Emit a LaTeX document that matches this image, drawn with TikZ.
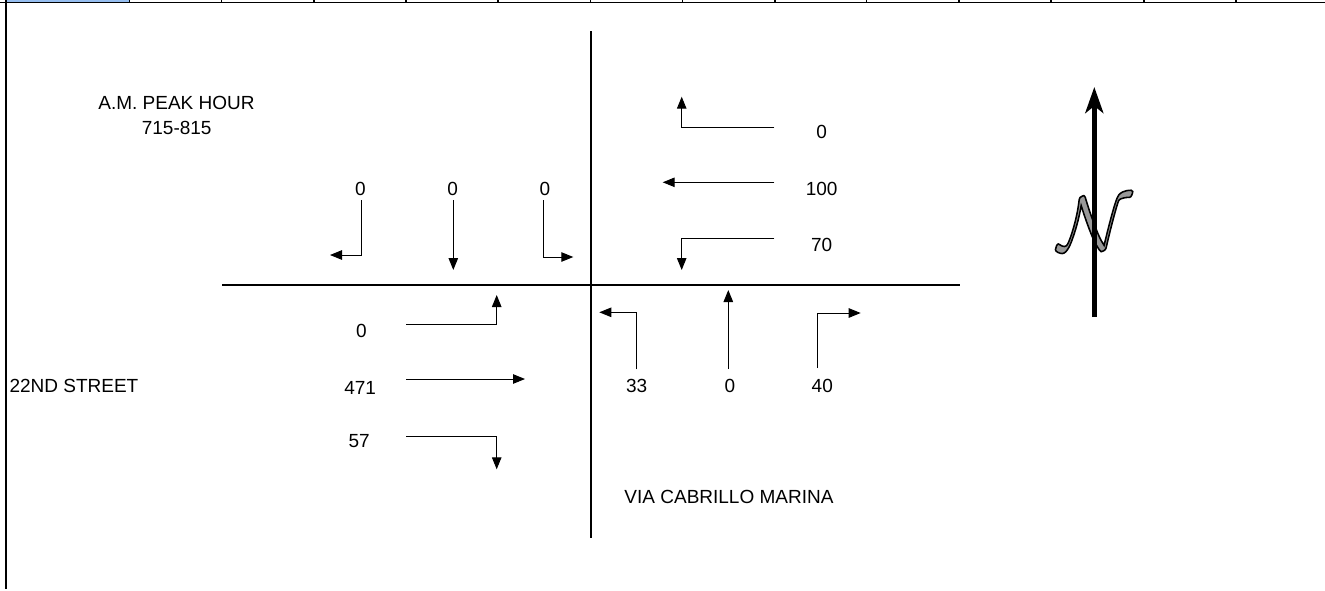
\documentclass[tikz,border=0pt]{standalone}
\usepackage{fontspec}
\setmainfont{Liberation Sans}
\usetikzlibrary{arrows.meta}
\definecolor{cellblue}{HTML}{96BEF0}
\definecolor{ngray}{gray}{0.6}
\newcommand{\outlinedN}{\special{pdf:code 2 Tr 0.42 w 0 G}$\mathcal{N}$\special{pdf:code 0 Tr}}
\begin{document}
\begin{tikzpicture}[x=1pt,y=-1pt,
  lbl/.style={font=\fontsize{19}{23}\selectfont, inner sep=0pt},
  arr/.style={line width=1pt,-{Triangle[length=12pt,width=9.5pt]}},
  road/.style={line width=2pt},
  gridln/.style={line width=1.3pt},
  nglyph/.style={inner sep=0pt, scale=3.7, font=\fontsize{20.74}{24}\selectfont}]
\useasboundingbox (0,0) rectangle (1325,590);
% spreadsheet remnants
\fill[cellblue] (7,0) rectangle (129,2);
\draw[gridln] (0,2.6) -- (1325,2.6);
\foreach \x in {129.5,221.7,314,406,498,590.7,682.7,775,866.7,959,1051,1144,1236}
  \draw[gridln] (\x,0) -- (\x,2.6);
\draw[line width=2.3pt] (6,0) -- (6,589);
% roads
\coordinate (vn) at (591,31);
\coordinate (vs) at (591,538);
\coordinate (hw) at (222,285);
\coordinate (he) at (960,285);
\draw[road] (vn) -- (vs);
\draw[road] (hw) -- (he);
% titles
\node[lbl] (title) at (176.5,103.3) {A.M. PEAK HOUR};
\node[lbl] (time) at (176.7,128.3) {715-815};
\node[lbl,anchor=west] (street) at (9.3,385.7) {22ND STREET};
\node[lbl] (via) at (729,497.3) {VIA CABRILLO MARINA};
% southbound
\node[lbl] (sbl) at (360.5,188.5) {0};
\node[lbl] (sbt) at (452.7,188.5) {0};
\node[lbl] (sbr) at (545,188.5) {0};
\coordinate (sbla) at (361.7,200);  \coordinate (sblb) at (330,255);
\coordinate (sbta) at (453.3,200);  \coordinate (sbtb) at (453.3,270);
\coordinate (sbra) at (543.3,200);  \coordinate (sbrb) at (573.3,257);
\draw[arr] (sbla) |- (sblb);
\draw[arr] (sbta) -- (sbtb);
\draw[arr] (sbra) |- (sbrb);
% westbound
\node[lbl] (wbr) at (821.7,132) {0};
\node[lbl] (wbt) at (821.7,189) {100};
\node[lbl] (wbl) at (821.7,245) {70};
\coordinate (wbra) at (774.3,127.3); \coordinate (wbrb) at (681.7,96.7);
\coordinate (wbta) at (774.3,182.3); \coordinate (wbtb) at (662.7,182.3);
\coordinate (wbla) at (774.3,238.7); \coordinate (wblb) at (681.7,270);
\draw[arr] (wbra) -| (wbrb);
\draw[arr] (wbta) -- (wbtb);
\draw[arr] (wbla) -| (wblb);
% eastbound
\node[lbl] (ebl) at (361.3,330.5) {0};
\node[lbl] (ebt) at (360.2,387.5) {471};
\node[lbl] (ebr) at (359.2,440.8) {57};
\coordinate (ebla) at (406,324.3); \coordinate (eblb) at (496.7,295);
\coordinate (ebta) at (406,379);   \coordinate (ebtb) at (525,379);
\coordinate (ebra) at (406,436);   \coordinate (ebrb) at (496.7,469.3);
\draw[arr] (ebla) -| (eblb);
\draw[arr] (ebta) -- (ebtb);
\draw[arr] (ebra) -| (ebrb);
% northbound
\node[lbl] (nbl) at (636.7,386.3) {33};
\node[lbl] (nbt) at (730,386.3) {0};
\node[lbl] (nbr) at (822.3,386.3) {40};
\coordinate (nbla) at (636,369.3);   \coordinate (nblb) at (599.3,312.3);
\coordinate (nbta) at (728.3,369);   \coordinate (nbtb) at (728.3,290);
\coordinate (nbra) at (817.3,368);   \coordinate (nbrb) at (860.7,313);
\draw[arr] (nbla) |- (nblb);
\draw[arr] (nbta) -- (nbtb);
\draw[arr] (nbra) |- (nbrb);
% north sign
\coordinate (nc) at (1094.8,223.5);
\node[nglyph,text=ngray] (nsign) at (nc) {\outlinedN};
\coordinate (nt) at (1094.3,87);
\coordinate (nb) at (1094.3,317);
\draw[line width=5pt,-{Stealth[length=26pt,width=18pt,inset=7pt]}] (nb) -- (nt);
\end{tikzpicture}
\end{document}
